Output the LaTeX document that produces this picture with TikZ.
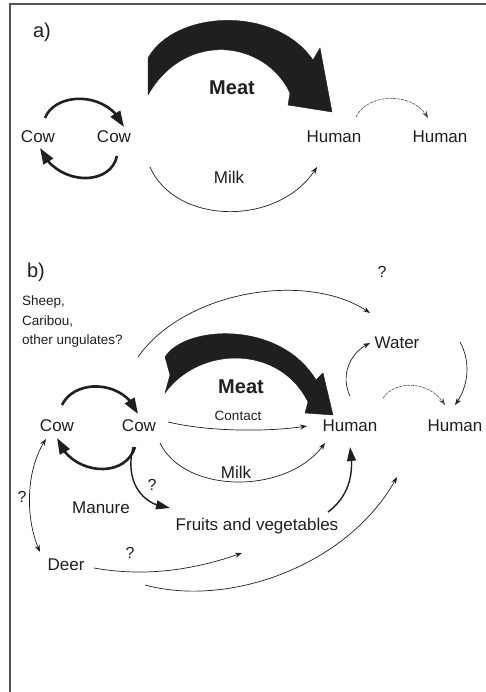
\documentclass[tikz,border=0pt]{standalone}
\usepackage{fontspec}
\setmainfont{Liberation Sans}
\usetikzlibrary{arrows.meta,bending}
\definecolor{ink}{HTML}{1F1F1F}
\definecolor{frame}{HTML}{555555}
\begin{document}
\begin{tikzpicture}[x=1pt,y=-1pt,
  lbl/.style={font=\fontsize{17}{20}\selectfont, text=ink, inner sep=1pt},
  smalllbl/.style={font=\fontsize{13.5}{19.5}\selectfont, text=ink, inner sep=1pt},
  qlbl/.style={font=\fontsize{16}{19}\selectfont, text=ink, inner sep=1pt},
  meatlbl/.style={font=\fontsize{20}{24}\selectfont\bfseries, text=ink, inner sep=1pt},
  partlbl/.style={font=\fontsize{20}{24}\selectfont, text=ink, inner sep=1pt},
  thinarr/.style={draw=ink, line width=0.7pt, -{Stealth[length=7pt,width=5pt]}},
  lightarr/.style={draw=ink!80, line width=0.6pt, dash pattern=on 3pt off 1pt, -{Stealth[length=7pt,width=5pt]}},
  thickarr/.style={draw=ink, line width=2.6pt, -{Triangle[length=16pt,width=11pt]}},
  medarr/.style={draw=ink, line width=1.4pt, -{Triangle[length=14pt,width=9pt]}},
  bigfill/.style={fill=ink, draw=ink, line width=0.4pt, line join=miter}
]
\useasboundingbox (0,0) rectangle (486,692);
% frame
\draw[frame, line width=1.6pt] (10,692) -- (10,4) -- (486,4);

% ---------------- part a ----------------
\node[partlbl] (pa) at (42,32) {a)};
\node[lbl] (ca1) at (38,137) {Cow};
\node[lbl] (ca2) at (114,137) {Cow};
\node[lbl] (ha1) at (334,137) {Human};
\node[lbl] (ha2) at (440,137) {Human};
\node[meatlbl] (meatA) at (232,88) {Meat};
\node[lbl] (milkA) at (229,177) {Milk};

\draw[thickarr] ([shift={(7,-19)}]ca1.center) .. controls (55,92) and (108,90) .. ([shift={(10,-10)}]ca2.center);
\draw[thickarr] ([shift={(3,19)}]ca2.center) .. controls (110,188) and (55,185) .. ([shift={(2,11)}]ca1.center);

\path[bigfill] (148,58) .. controls (175,10) and (275,5) .. (313,60) -- (320,48) -- (332,112) -- (288,105) -- (290,93)
   .. controls (265,40) and (185,30) .. (148,95) -- cycle;

\draw[thinarr] ([shift={(36,30)}]ca2.center) .. controls (175,225) and (280,228) .. ([shift={(-17,30)}]ha1.center);
\draw[lightarr] ([shift={(22,-20)}]ha1.center) .. controls (368,92) and (415,92) .. ([shift={(-12,-19)}]ha2.center);

% ---------------- part b ----------------
\node[partlbl] (pb) at (36,272) {b)};
\node[smalllbl, anchor=west, align=left] (sheep) at (21,322) {Sheep,\\Caribou,\\other ungulates?};
\coordinate (sheepend) at (138,357);
\node[qlbl] (q1) at (382,272) {?};
\node[lbl] (water) at (397,343) {Water};
\node[meatlbl] (meatB) at (241,387) {Meat};
\node[lbl] (cb1) at (57,426) {Cow};
\node[lbl] (cb2) at (139,426) {Cow};
\node[smalllbl] (contact) at (238,416) {Contact};
\node[lbl] (hb1) at (350,426) {Human};
\node[lbl] (hb2) at (455,426) {Human};
\node[lbl] (milkB) at (236,472) {Milk};
\node[qlbl] (q2) at (152,485) {?};
\node[lbl] (manure) at (101,508) {Manure};
\node[lbl] (fruits) at (257,526) {Fruits and vegetables};
\node[qlbl] (q3) at (22,497) {?};
\node[lbl] (deer) at (66,565) {Deer};
\node[qlbl] (q4) at (130,553) {?};

\draw[thinarr] (sheepend) .. controls (185,290) and (310,270) .. ([shift={(-27,-30)}]water.center);

\path[bigfill] (165,357) .. controls (185,325) and (280,320) .. (316,380) -- (323,373) -- (333,415) -- (305,413) -- (308,402)
   .. controls (280,345) and (200,345) .. (165,393) -- (170,375) -- cycle;

\draw[thickarr] ([shift={(5,-21)}]cb1.center) .. controls (75,378) and (125,380) .. ([shift={(-1,-12)}]cb2.center);
\draw[thickarr] ([shift={(-4,21)}]cb2.center) .. controls (125,480) and (70,475) .. ([shift={(0,12)}]cb1.center);
\draw[medarr] ([shift={(-6,21)}]cb2.center) .. controls (125,480) and (140,505) .. ([shift={(-87,-18)}]fruits.center);
\draw[thinarr] ([shift={(29,-4)}]cb2.center) .. controls (210,432) and (270,432) .. ([shift={(-43,0)}]hb1.center);
\draw[thinarr] ([shift={(21,17)}]cb2.center) .. controls (185,495) and (290,495) .. ([shift={(-25,17)}]hb1.center);
\draw[medarr] ([shift={(71,-14)}]fruits.center) .. controls (348,497) and (355,475) .. ([shift={(0,21)}]hb1.center);
\draw[thinarr, {Stealth[length=7pt,width=5pt]}-{Stealth[length=7pt,width=5pt]}] ([shift={(-11,13)}]cb1.center) .. controls (25,470) and (25,520) .. ([shift={(-26,-13)}]deer.center);
\draw[thinarr] ([shift={(28,3)}]deer.center) .. controls (150,578) and (200,568) .. ([shift={(-15,27)}]fruits.center);
\draw[thinarr] ([shift={(79,20)}]deer.center) .. controls (230,608) and (350,565) .. ([shift={(47,51)}]hb1.center);
\draw[thinarr] ([shift={(0,-30)}]hb1.center) .. controls (340,375) and (350,352) .. ([shift={(-27,0)}]water.center);
\draw[thinarr] ([shift={(63,-1)}]water.center) .. controls (470,360) and (470,385) .. ([shift={(0,-21)}]hb2.center);
\draw[lightarr] ([shift={(33,-28)}]hb1.center) .. controls (395,380) and (430,380) .. ([shift={(-10,-21)}]hb2.center);
\end{tikzpicture}
\end{document}
